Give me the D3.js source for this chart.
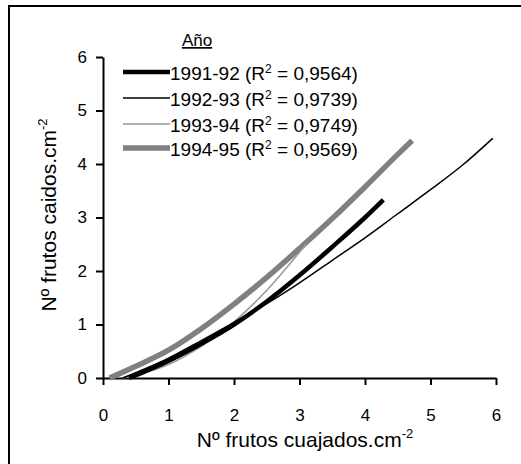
<!DOCTYPE html>
<html>
<head>
<meta charset="utf-8">
<script src="https://cdn.jsdelivr.net/npm/d3@7"></script>
<style>
  body { margin: 0; background: #fff; }
  text { font-family: Arial, "Liberation Sans", sans-serif; fill: #000; }
</style>
</head>
<body>
<div id="wrapper"></div>
<script>
// data
const years = ["1991-92", "1992-93", "1993-94", "1994-95"]
const r2Labels = ["0,9564", "0,9739", "0,9749", "0,9569"]
const xTicks = [0, 1, 2, 3, 4, 5, 6]
const yTicks = [0, 1, 2, 3, 4, 5, 6]

const curve9192 = [[0.4, 0], [1, 0.32], [1.5, 0.64], [2, 1.0], [2.5, 1.43], [3, 1.92], [3.5, 2.45], [4, 3.0], [4.28, 3.33]]
const curve9293 = [[0.3, 0], [1, 0.37], [1.5, 0.7], [2, 1.04], [2.5, 1.39], [3, 1.78], [3.5, 2.2], [4, 2.62], [4.5, 3.07], [5, 3.52], [5.5, 3.99], [5.95, 4.48]]
const curve9394 = [[0.3, 0], [1, 0.25], [1.5, 0.59], [2, 1.05], [2.5, 1.64], [3, 2.35], [3.1, 2.5]]
const curve9495 = [[0.1, 0], [0.5, 0.22], [1, 0.52], [1.5, 0.92], [2, 1.38], [2.5, 1.88], [3, 2.42], [3.5, 2.98], [4, 3.57], [4.5, 4.18], [4.72, 4.44]]

function drawChart() {
  const dimensions = {
    width: 521,
    height: 464,
    margin: { top: 57, right: 25, bottom: 86, left: 103 },
  }
  dimensions.boundedWidth = dimensions.width - dimensions.margin.left - dimensions.margin.right
  dimensions.boundedHeight = dimensions.height - dimensions.margin.top - dimensions.margin.bottom

  const svg = d3.select("#wrapper").append("svg")
      .attr("width", dimensions.width)
      .attr("height", dimensions.height)

  // frame round the whole figure
  svg.append("rect")
      .attr("x", 9).attr("y", 6)
      .attr("width", 700).attr("height", 700)
      .attr("fill", "none")
      .attr("stroke", "#000")
      .attr("stroke-width", 2)

  const bounds = svg.append("g")
      .attr("transform", `translate(${dimensions.margin.left},${dimensions.margin.top})`)

  const xScale = d3.scaleLinear().domain([0, 6]).range([0, dimensions.boundedWidth])
  const yScale = d3.scaleLinear().domain([0, 6]).range([dimensions.boundedHeight, 0])

  const series = [
    { name: years[0], r2: r2Labels[0], values: curve9192, color: "#000", width: 4.5 },
    { name: years[1], r2: r2Labels[1], values: curve9293, color: "#000", width: 1.5 },
    { name: years[2], r2: r2Labels[2], values: curve9394, color: "#999", width: 1.5 },
    { name: years[3], r2: r2Labels[3], values: curve9495, color: "#808080", width: 5.5 },
  ]

  // axes
  const xAxis = bounds.append("g")
      .attr("transform", `translate(0,${dimensions.boundedHeight})`)
      .call(d3.axisBottom(xScale).tickValues(xTicks).tickFormat(d3.format("d"))
        .tickSizeInner(7).tickSizeOuter(0).tickPadding(24))
  const yAxis = bounds.append("g")
      .call(d3.axisLeft(yScale).tickValues(yTicks).tickFormat(d3.format("d"))
        .tickSizeInner(7).tickSizeOuter(0).tickPadding(9))

  ;[xAxis, yAxis].forEach(ax => {
    ax.select(".domain").attr("stroke", "#000").attr("stroke-width", 2)
    ax.selectAll(".tick line").attr("stroke", "#000").attr("stroke-width", 2)
    ax.selectAll(".tick text").attr("font-size", 17).attr("font-family", "Arial, 'Liberation Sans', sans-serif")
  })

  // curves
  const lineGenerator = d3.line()
      .curve(d3.curveMonotoneX)
      .x(d => xScale(d[0]))
      .y(d => yScale(d[1]))

  bounds.selectAll(".curve")
    .data(series.slice().reverse())
    .join("path")
      .attr("class", "curve")
      .attr("d", d => lineGenerator(d.values))
      .attr("fill", "none")
      .attr("stroke", d => d.color)
      .attr("stroke-width", d => d.width)

  // axis titles
  const xTitle = svg.append("text")
      .attr("x", 305).attr("y", 447)
      .attr("text-anchor", "middle")
      .attr("font-size", 21)
  xTitle.append("tspan").text("Nº frutos cuajados.cm")
  xTitle.append("tspan").attr("dy", -9).attr("font-size", 13).text("-2")

  const yTitle = svg.append("text")
      .attr("transform", "translate(56,215) rotate(-90)")
      .attr("text-anchor", "middle")
      .attr("font-size", 21)
  yTitle.append("tspan").text("Nº frutos caidos.cm")
  yTitle.append("tspan").attr("dy", -9).attr("font-size", 13).text("-2")

  // legend
  svg.append("text")
      .attr("x", 197).attr("y", 46)
      .attr("text-anchor", "middle")
      .attr("font-size", 17)
      .attr("text-decoration", "underline")
      .text("Año")

  const rowY = [80, 106, 132, 156]
  const legend = svg.selectAll(".legend-row")
    .data(series)
    .join("g")
      .attr("class", "legend-row")
      .attr("transform", (d, i) => `translate(0,${rowY[i]})`)

  legend.append("line")
      .attr("x1", 123).attr("x2", 170)
      .attr("y1", -8).attr("y2", -8)
      .attr("stroke", d => d.color)
      .attr("stroke-width", d => d.width)

  const label = legend.append("text")
      .attr("x", 170).attr("y", 0)
      .attr("font-size", 19)
  label.append("tspan").text(d => `${d.name} (R`)
  label.append("tspan").attr("dy", -7).attr("font-size", 12).text("2")
  label.append("tspan").attr("dy", 7).text(d => ` = ${d.r2})`)
}
drawChart()
</script>
</body>
</html>
